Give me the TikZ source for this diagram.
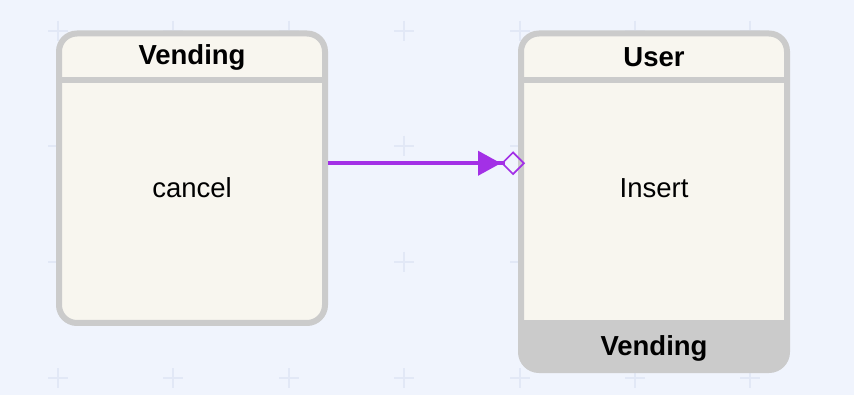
\documentclass[tikz,border=0pt]{standalone}
\usepackage{fontspec}
\setsansfont{Liberation Sans}
\usetikzlibrary{arrows.meta,positioning}
\definecolor{canvas}{HTML}{F0F4FD}
\definecolor{gridmark}{HTML}{E2E8F6}
\definecolor{paper}{HTML}{F8F6EF}
\definecolor{rim}{HTML}{CBCBCB}
\definecolor{flow}{HTML}{A330E6}
\tikzset{
    %Define style for state boxes
    statebox/.style={
           rectangle,
           rounded corners=18pt,
           draw=rim, line width=6pt,
           fill=paper,
           minimum width=266pt,
           inner sep=0pt,
           outer sep=0pt},
    %Define style for texts
    boxtitle/.style={
           font=\sffamily\bfseries\fontsize{27.5}{32}\selectfont,
           text centered},
    boxtext/.style={
           font=\sffamily\fontsize{27.5}{32}\selectfont,
           text centered},
    % Define arrow style
    trans/.style={
           draw=flow, line width=4pt,
           shorten <=3pt,
           -{Triangle[length=23pt,width=24pt]Diamond[open,length=24pt,width=24pt,line width=1.6pt]}},
}
\begin{document}
\begin{tikzpicture}[x=1pt,y=-1pt]
\fill[canvas] (0,0) rectangle (854,395);
\useasboundingbox (0,0) rectangle (854,395);

 %grid marks
\foreach \gx in {58,173,289,404,520,635,750}
  \foreach \gy in {31,146,262,378}
    \draw[gridmark, line width=1.5pt] (\gx-10,\gy) -- (\gx+10,\gy) (\gx,\gy-10) -- (\gx,\gy+10);

 %nodes
\node[statebox, minimum height=289.5pt](vend) at (192,178.25) {};
\draw[rim, line width=6pt] (vend.west |- 0,80) -- (vend.east |- 0,80);
\node[boxtitle](vendtitle) at (vend.north |- 0,57.5) {Vending};
\node[boxtext](cancel) at (vend.center |- 0,188) {cancel};

\node[statebox, minimum height=336.5pt](user) at (654,201.75) {};
\draw[rim, line width=6pt] (user.west |- 0,80) -- (user.east |- 0,80);
\begin{scope}
  \clip[rounded corners=18pt] (user.south west) rectangle (user.north east);
  \fill[rim] (user.west |- 0,320.5) rectangle (user.south east);
\end{scope}
\node[boxtitle](usertitle) at (user.north |- 0,57.5) {User};
\node[boxtext](insert) at (user.center |- 0,188) {Insert};
\node[boxtitle](userfoot) at (user.south |- 0,348) {Vending};

 %transition
\coordinate (out) at ([yshift=15pt]vend.east);
\draw[trans] (out) -- ([xshift=4pt]out -| user.west);

\end{tikzpicture}
\end{document}
